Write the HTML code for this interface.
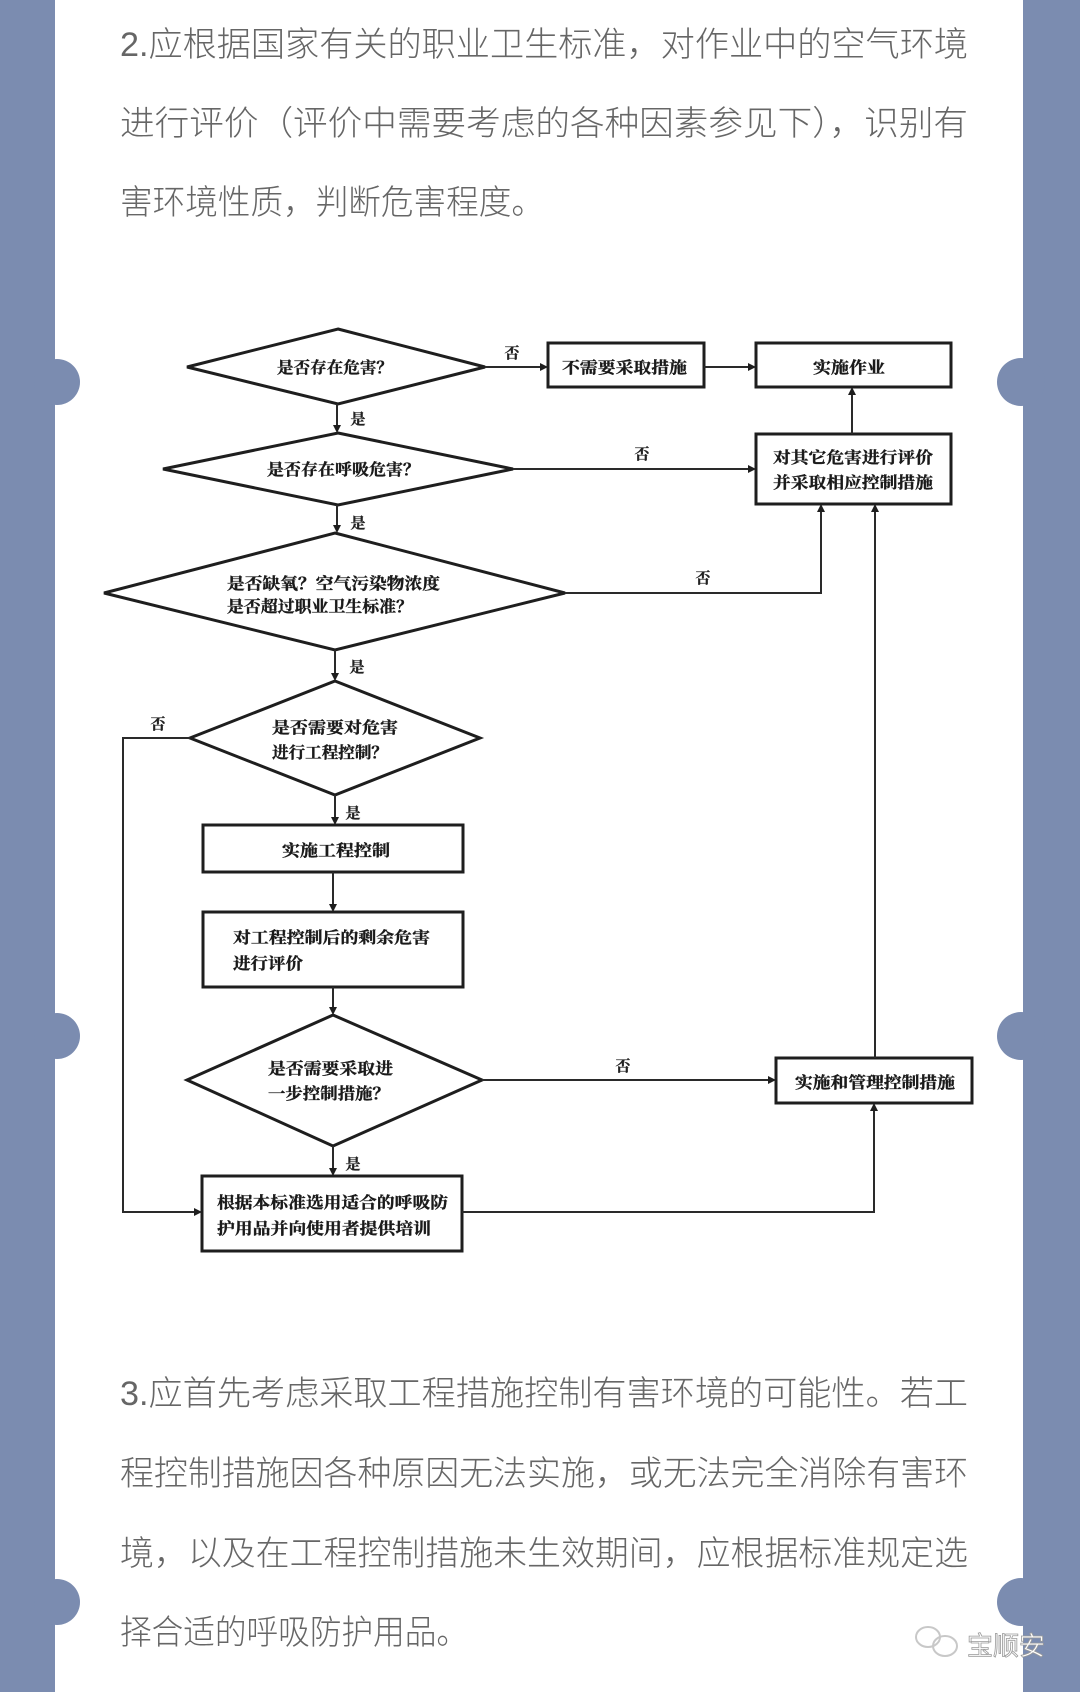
<!DOCTYPE html>
<html>
<head>
<meta charset="utf-8">
<style>
html,body{margin:0;padding:0;background:#fff;}
svg{display:block;}
.p{font-family:"Liberation Sans","Noto Sans CJK SC",sans-serif;font-size:34px;fill:#666666;font-weight:300;}
.d{font-family:"Liberation Serif","Noto Serif CJK SC",serif;font-size:16px;fill:#1a1a1a;font-weight:700;stroke:#1a1a1a;stroke-width:0.35;}
.l{font-family:"Liberation Serif","Noto Serif CJK SC",serif;font-size:15px;fill:#222;font-weight:700;stroke:#222;stroke-width:0.3;}
.sh{fill:none;stroke:#1e1e1e;stroke-width:3;}
.ln{fill:none;stroke:#2a2a2a;stroke-width:2;}
.ah{fill:#1e1e1e;}
</style>
</head>
<body>
<svg width="1080" height="1692" viewBox="0 0 1080 1692" xmlns="http://www.w3.org/2000/svg">
<rect x="0" y="0" width="1080" height="1692" fill="#ffffff"/>
<!-- side bars -->
<rect x="0" y="0" width="55" height="1692" fill="#7b8cb0"/>
<rect x="1023" y="0" width="57" height="1692" fill="#7b8cb0"/>
<circle cx="57" cy="382" r="23" fill="#7b8cb0"/>
<circle cx="57" cy="1036" r="23" fill="#7b8cb0"/>
<circle cx="57" cy="1602" r="23" fill="#7b8cb0"/>
<circle cx="1021" cy="382" r="24" fill="#7b8cb0"/>
<circle cx="1021" cy="1036" r="24" fill="#7b8cb0"/>
<circle cx="1021" cy="1602" r="24" fill="#7b8cb0"/>

<!-- paragraph 2 -->
<text class="p" x="120" y="56" textLength="848" lengthAdjust="spacingAndGlyphs">2.应根据国家有关的职业卫生标准，对作业中的空气环境</text>
<text class="p" x="120" y="135" textLength="848" lengthAdjust="spacingAndGlyphs">进行评价（评价中需要考虑的各种因素参见下），识别有</text>
<text class="p" x="120" y="214" textLength="424" lengthAdjust="spacingAndGlyphs">害环境性质，判断危害程度。</text>

<!-- paragraph 3 -->
<text class="p" x="120" y="1405" textLength="848" lengthAdjust="spacingAndGlyphs">3.应首先考虑采取工程措施控制有害环境的可能性。若工</text>
<text class="p" x="120" y="1485" textLength="848" lengthAdjust="spacingAndGlyphs">程控制措施因各种原因无法实施，或无法完全消除有害环</text>
<text class="p" x="120" y="1565" textLength="848" lengthAdjust="spacingAndGlyphs">境，以及在工程控制措施未生效期间，应根据标准规定选</text>
<text class="p" x="120" y="1644" textLength="348" lengthAdjust="spacingAndGlyphs">择合适的呼吸防护用品。</text>

<!-- watermark -->
<g fill="none" stroke="#c8c8c8" stroke-width="2">
  <ellipse cx="928" cy="1637" rx="12" ry="10"/>
  <ellipse cx="945" cy="1646" rx="12" ry="10"/>
</g>
<text x="967" y="1655" font-family="Liberation Sans,Noto Sans CJK SC,sans-serif" font-size="26" fill="#ffffff" stroke="#9a9a9a" stroke-width="0.8" textLength="78" lengthAdjust="spacingAndGlyphs">宝顺安</text>

<!-- ===== diagram shapes ===== -->
<polygon class="sh" points="338,329 485,367 338,404 187,367"/>
<polygon class="sh" points="338,433 513,469 338,505 163,469"/>
<polygon class="sh" points="335,533 565,593 335,650 104,593"/>
<polygon class="sh" points="335,681 480,738 335,795 190,738"/>
<polygon class="sh" points="333,1015 482,1080 333,1146 187,1080"/>
<rect class="sh" x="548" y="343" width="156" height="44"/>
<rect class="sh" x="756" y="343" width="195" height="44"/>
<rect class="sh" x="756" y="434" width="195" height="70"/>
<rect class="sh" x="203" y="825" width="260" height="47"/>
<rect class="sh" x="203" y="912" width="260" height="75"/>
<rect class="sh" x="202" y="1176" width="260" height="75"/>
<rect class="sh" x="776" y="1058" width="196" height="45"/>

<!-- connectors -->
<line class="ln" x1="337" y1="404" x2="337" y2="427"/>
<polygon class="ah" points="333,425 341,425 337,433"/>
<line class="ln" x1="337" y1="505" x2="337" y2="527"/>
<polygon class="ah" points="333,525 341,525 337,533"/>
<line class="ln" x1="335" y1="650" x2="335" y2="675"/>
<polygon class="ah" points="331,673 339,673 335,681"/>
<line class="ln" x1="335" y1="795" x2="335" y2="819"/>
<polygon class="ah" points="331,817 339,817 335,825"/>
<line class="ln" x1="333" y1="872" x2="333" y2="906"/>
<polygon class="ah" points="329,904 337,904 333,912"/>
<line class="ln" x1="333" y1="987" x2="333" y2="1009"/>
<polygon class="ah" points="329,1007 337,1007 333,1015"/>
<line class="ln" x1="333" y1="1146" x2="333" y2="1170"/>
<polygon class="ah" points="329,1168 337,1168 333,1176"/>

<line class="ln" x1="485" y1="367" x2="542" y2="367"/>
<polygon class="ah" points="540,363 540,371 548,367"/>
<line class="ln" x1="704" y1="367" x2="750" y2="367"/>
<polygon class="ah" points="748,363 748,371 756,367"/>
<line class="ln" x1="852" y1="434" x2="852" y2="393"/>
<polygon class="ah" points="848,395 856,395 852,387"/>
<line class="ln" x1="513" y1="469" x2="750" y2="469"/>
<polygon class="ah" points="748,465 748,473 756,469"/>
<polyline class="ln" points="565,593 821,593 821,510"/>
<polygon class="ah" points="817,512 825,512 821,504"/>
<line class="ln" x1="875" y1="1058" x2="875" y2="510"/>
<polygon class="ah" points="871,512 879,512 875,504"/>
<line class="ln" x1="482" y1="1080" x2="770" y2="1080"/>
<polygon class="ah" points="768,1076 768,1084 776,1080"/>
<polyline class="ln" points="462,1212 874,1212 874,1109"/>
<polygon class="ah" points="870,1111 878,1111 874,1103"/>
<polyline class="ln" points="190,738 123,738 123,1212 196,1212"/>
<polygon class="ah" points="194,1208 194,1216 202,1212"/>

<!-- ===== diagram text ===== -->
<text class="d" x="277" y="373" textLength="116" lengthAdjust="spacingAndGlyphs">是否存在危害？</text>
<text class="d" x="267" y="475" textLength="153" lengthAdjust="spacingAndGlyphs">是否存在呼吸危害？</text>
<text class="d" x="227" y="589" textLength="213" lengthAdjust="spacingAndGlyphs">是否缺氧？空气污染物浓度</text>
<text class="d" x="227" y="612" textLength="186" lengthAdjust="spacingAndGlyphs">是否超过职业卫生标准？</text>
<text class="d" x="272" y="733" textLength="126" lengthAdjust="spacingAndGlyphs">是否需要对危害</text>
<text class="d" x="272" y="758" textLength="116" lengthAdjust="spacingAndGlyphs">进行工程控制？</text>
<text class="d" x="282" y="856" textLength="108" lengthAdjust="spacingAndGlyphs">实施工程控制</text>
<text class="d" x="233" y="943" textLength="197" lengthAdjust="spacingAndGlyphs">对工程控制后的剩余危害</text>
<text class="d" x="233" y="969" textLength="70" lengthAdjust="spacingAndGlyphs">进行评价</text>
<text class="d" x="268" y="1074" textLength="125" lengthAdjust="spacingAndGlyphs">是否需要采取进</text>
<text class="d" x="268" y="1099" textLength="122" lengthAdjust="spacingAndGlyphs">一步控制措施？</text>
<text class="d" x="217" y="1208" textLength="231" lengthAdjust="spacingAndGlyphs">根据本标准选用适合的呼吸防</text>
<text class="d" x="217" y="1234" textLength="214" lengthAdjust="spacingAndGlyphs">护用品并向使用者提供培训</text>
<text class="d" x="562" y="373" textLength="125" lengthAdjust="spacingAndGlyphs">不需要采取措施</text>
<text class="d" x="813" y="373" textLength="72" lengthAdjust="spacingAndGlyphs">实施作业</text>
<text class="d" x="773" y="463" textLength="160" lengthAdjust="spacingAndGlyphs">对其它危害进行评价</text>
<text class="d" x="773" y="488" textLength="160" lengthAdjust="spacingAndGlyphs">并采取相应控制措施</text>
<text class="d" x="795" y="1088" textLength="160" lengthAdjust="spacingAndGlyphs">实施和管理控制措施</text>

<text class="l" x="358" y="424" text-anchor="middle">是</text>
<text class="l" x="358" y="528" text-anchor="middle">是</text>
<text class="l" x="357" y="672" text-anchor="middle">是</text>
<text class="l" x="353" y="818" text-anchor="middle">是</text>
<text class="l" x="353" y="1169" text-anchor="middle">是</text>
<text class="l" x="512" y="358" text-anchor="middle">否</text>
<text class="l" x="642" y="459" text-anchor="middle">否</text>
<text class="l" x="703" y="583" text-anchor="middle">否</text>
<text class="l" x="158" y="729" text-anchor="middle">否</text>
<text class="l" x="623" y="1071" text-anchor="middle">否</text>
</svg>
</body>
</html>
